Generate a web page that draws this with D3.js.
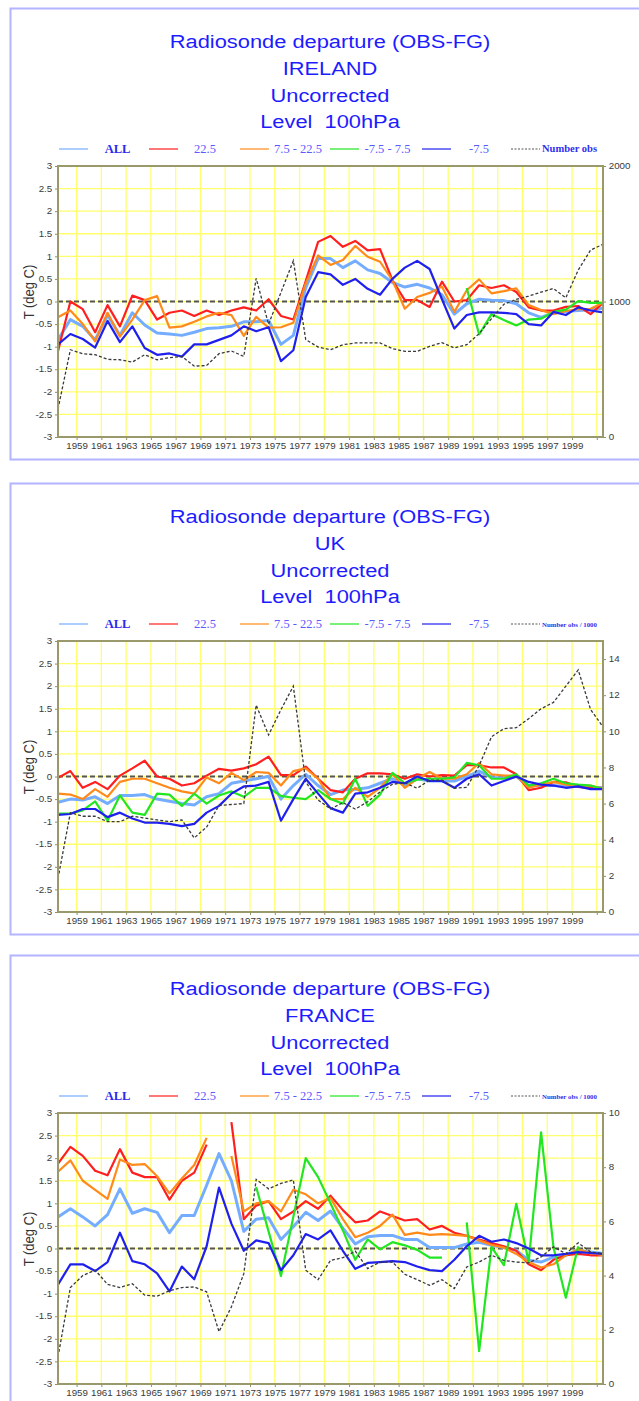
<!DOCTYPE html>
<html>
<head>
<meta charset="utf-8">
<script src="https://cdn.jsdelivr.net/npm/d3@7"></script>
<style>
  body { margin: 0; background: #fff; }
  svg { display: block; }
</style>
</head>
<body>
<svg id="chart" width="639" height="1401"></svg>
<script>
// ---- data ----
var years = d3.range(1957, 2002);            // one annual mean per year, 1957..2001
var yearLabels = d3.range(1959, 2002, 2);
var tempTicks = d3.range(-3, 3.01, 0.5);
var bandNames = ['ALL', '22.5', '7.5 - 22.5', '-7.5 - 7.5', '-7.5'];
var countries = ['IRELAND', 'UK', 'FRANCE'];
var countLabels = ['Number obs', 'Number obs / 1000', 'Number obs / 1000'];

var irelandCountMax = 2000, irelandCountTicks = [0, 1000, 2000];
var ukCountMax = 15, ukCountTicks = [0, 2, 4, 6, 8, 10, 12, 14];
var franceCountMax = 10, franceCountTicks = [0, 2, 4, 6, 8, 10];

var n = null;

var irelandAll = [-0.85,-0.4,-0.55,-0.85,-0.3,-0.75,-0.25,-0.52,-0.7,-0.72,-0.75,-0.68,-0.6,-0.58,-0.55,-0.45,-0.45,-0.42,-0.95,-0.75,0.3,0.95,0.95,0.75,0.9,0.7,0.62,0.42,0.32,0.38,0.3,0.15,-0.28,-0.05,0.05,0.03,0.02,-0.05,-0.25,-0.35,-0.25,-0.22,-0.2,-0.18,-0.15];
var irelandN22 = [-1.1,0.0,-0.17,-0.68,-0.08,-0.55,0.13,0.03,-0.4,-0.25,-0.2,-0.32,-0.2,-0.3,-0.2,-0.13,-0.2,0.05,-0.32,-0.4,0.45,1.32,1.45,1.21,1.34,1.13,1.16,0.47,0.03,0.03,-0.12,0.44,0.0,0.03,0.36,0.3,0.36,0.21,-0.13,-0.2,-0.2,-0.12,-0.1,-0.28,-0.03];
var irelandN7 = [-0.35,-0.2,-0.5,-0.88,-0.25,-0.78,-0.4,0.03,0.12,-0.58,-0.55,-0.45,-0.33,-0.25,-0.3,-0.76,-0.34,-0.58,-0.57,-0.47,0.4,1.02,0.81,0.92,1.23,0.99,0.88,0.47,-0.16,0.1,0.19,0.33,-0.23,0.25,0.49,0.18,0.23,0.29,-0.08,-0.19,-0.28,-0.21,-0.17,-0.16,-0.03];
var irelandTrop = [n,n,n,n,n,n,n,n,n,n,n,n,n,n,n,n,n,n,n,n,n,n,n,n,n,n,n,n,n,n,n,n,n,0.3,-0.73,-0.28,-0.41,-0.53,-0.4,-0.38,-0.23,-0.18,0.01,-0.03,-0.03];
var irelandS7 = [-0.95,-0.72,-0.83,-1.02,-0.43,-0.9,-0.55,-1.03,-1.18,-1.15,-1.22,-0.95,-0.95,-0.85,-0.75,-0.55,-0.66,-0.57,-1.32,-1.08,0.1,0.65,0.6,0.37,0.5,0.28,0.15,0.5,0.75,0.9,0.72,0.05,-0.6,-0.3,-0.24,-0.24,-0.25,-0.28,-0.5,-0.53,-0.23,-0.3,-0.13,-0.2,-0.24];
var irelandCount = [207,644,615,607,573,570,553,607,570,585,595,523,528,615,635,595,1170,832,1067,1301,719,664,644,681,694,694,694,652,632,632,669,696,657,681,763,874,980,1015,1040,1069,1096,1027,1232,1380,1422];

var ukAll = [-0.57,-0.5,-0.52,-0.45,-0.6,-0.42,-0.42,-0.4,-0.5,-0.55,-0.6,-0.63,-0.45,-0.38,-0.15,-0.1,-0.05,0.0,-0.5,-0.2,0.05,-0.2,-0.4,-0.3,-0.28,-0.25,-0.15,-0.05,-0.2,-0.05,-0.1,-0.1,-0.1,0.0,0.12,-0.02,-0.03,0.0,-0.2,-0.2,-0.2,-0.22,-0.22,-0.25,-0.25];
var ukN22 = [-0.03,0.12,-0.25,-0.12,-0.28,0.02,0.18,0.35,0.0,-0.05,-0.2,-0.15,0.02,0.17,0.13,0.18,0.27,0.44,0.03,0.03,0.22,-0.05,-0.3,-0.35,-0.05,0.07,0.07,0.05,-0.05,0.05,0.0,0.03,0.02,0.25,0.25,0.2,0.2,0.05,-0.3,-0.25,-0.12,-0.13,-0.23,-0.25,-0.25];
var ukN7 = [-0.38,-0.4,-0.5,-0.28,-0.45,-0.12,-0.05,-0.05,-0.15,-0.25,-0.33,-0.38,-0.02,-0.15,0.08,-0.08,0.1,0.08,-0.2,0.12,0.18,-0.05,-0.5,-0.5,-0.25,-0.45,-0.25,0.05,-0.25,-0.05,0.1,-0.05,-0.05,0.05,0.3,0.05,0.02,0.02,-0.25,-0.18,-0.12,-0.18,-0.2,-0.2,-0.28];
var ukTrop = [-0.82,-0.82,-0.75,-0.55,-0.98,-0.42,-0.8,-0.85,-0.38,-0.4,-0.65,-0.38,-0.6,-0.42,-0.33,-0.45,-0.25,-0.25,-0.43,-0.47,-0.5,-0.3,-0.5,-0.6,-0.05,-0.65,-0.4,0.08,-0.15,-0.07,-0.05,-0.05,-0.02,0.3,0.25,-0.05,-0.05,0.05,-0.2,-0.15,-0.05,-0.15,-0.18,-0.2,-0.28];
var ukS7 = [-0.85,-0.83,-0.72,-0.72,-0.9,-0.8,-0.93,-1.02,-1.02,-1.05,-1.1,-1.05,-0.8,-0.65,-0.38,-0.22,-0.2,-0.12,-0.98,-0.5,-0.05,-0.38,-0.7,-0.8,-0.38,-0.35,-0.25,-0.12,-0.15,0.0,-0.1,-0.1,-0.25,-0.05,0.05,-0.2,-0.1,0.0,-0.12,-0.18,-0.2,-0.25,-0.22,-0.28,-0.28];
var ukCount = [1.85,5.5,5.3,5.3,5.0,5.0,5.3,5.2,5.1,5.0,5.1,4.1,4.7,5.9,5.95,6.0,11.45,9.8,11.2,12.5,7.2,6.2,5.7,6.05,5.7,6.1,6.65,7.07,7.15,6.85,7.3,7.3,6.85,6.9,8.1,9.7,10.15,10.2,10.7,11.25,11.6,12.5,13.4,11.2,10.25];

var franceAll = [0.7,0.88,0.7,0.5,0.75,1.32,0.78,0.88,0.8,0.35,0.73,0.73,1.4,2.1,1.5,0.38,0.65,0.68,0.2,0.48,0.8,0.62,0.83,0.45,0.1,0.26,0.29,0.29,0.2,0.2,0.02,0.02,0.02,0.1,0.14,0.07,0.02,-0.04,-0.26,-0.3,-0.19,-0.15,-0.03,-0.08,-0.11];
var franceN22 = [1.88,2.25,2.05,1.72,1.62,2.2,1.68,1.58,1.58,1.08,1.5,1.68,2.3,n,2.8,0.65,0.95,1.05,0.65,0.82,1.05,0.88,1.17,0.85,0.58,0.62,0.82,0.72,0.62,0.65,0.42,0.5,0.35,0.28,0.2,0.12,0.05,-0.05,-0.35,-0.48,-0.25,-0.15,-0.12,-0.15,-0.15];
var franceN7 = [1.7,1.95,1.5,1.3,1.1,1.97,1.85,1.87,1.6,1.22,1.55,1.85,2.45,n,2.05,0.82,1.0,1.05,0.82,1.3,1.2,1.0,1.12,0.65,0.25,0.35,0.5,0.75,0.3,0.35,0.3,0.32,0.3,0.28,0.18,0.08,0.02,-0.12,-0.3,-0.42,-0.35,-0.15,-0.02,-0.1,-0.15];
var franceTrop = [n,n,n,n,n,n,n,n,n,n,n,n,n,n,n,n,1.36,0.38,-0.61,0.7,2.0,1.58,1.0,0.4,-0.25,0.2,-0.02,0.14,0.07,-0.03,-0.2,-0.2,n,0.58,-2.27,0.03,-0.37,0.99,-0.3,2.57,0.03,-1.09,0.05,n,n];
var franceS7 = [-0.8,-0.35,-0.35,-0.5,-0.3,0.35,-0.28,-0.35,-0.55,-0.95,-0.4,-0.68,0.05,1.35,0.55,-0.05,0.18,0.12,-0.48,-0.15,0.32,0.2,0.4,-0.05,-0.45,-0.32,-0.3,-0.28,-0.3,-0.4,-0.48,-0.5,-0.25,0.05,0.28,0.15,0.2,0.12,0.0,-0.15,-0.15,-0.12,-0.08,-0.1,-0.12];
var franceCount = [1.0,3.56,4.0,4.2,3.68,3.56,3.7,3.28,3.24,3.44,3.56,3.58,3.4,1.93,2.85,4.07,7.55,7.2,7.4,7.53,4.2,3.85,4.56,4.66,4.9,4.26,4.5,4.5,4.05,3.85,3.64,3.85,3.52,4.32,4.5,4.75,4.56,4.5,4.47,4.69,5.06,4.81,5.21,4.87,4.81];

// ---- drawing ----
var bandColors = ['#74adff', '#ff1f1f', '#ff8a1a', '#22e622', '#2020ee'],
    bandWidths = [3, 2.2, 2.2, 2.2, 2.2];

var plotLeft = 58, plotRight = 603, plotTop = 158, plotBottom = 429;
var stretch = 'scale(1.15,1)';   // the scan is a little wider than tall

var svg = d3.select('#chart');

var drawPanel = function(top, country, bands, counts, countMax, countTicks, countLabel) {
	var g = svg.append('g').attr('transform', 'translate(0,' + top + ')');

	// panel frame
	g.append('rect')
		.attr('x', 10.5).attr('y', 0.5)
		.attr('width', 700).attr('height', 451)
		.attr('fill', 'none')
		.attr('stroke', '#b4b4ff')
		.attr('stroke-width', 2);

	// title block
	var titleLines = ['Radiosonde departure (OBS-FG)', country, 'Uncorrected', 'Level  100hPa'];
	var baselines = [40, 67, 93.5, 120];
	titleLines.forEach(function(t, i) {
		g.append('text')
			.attr('transform', 'translate(330,' + baselines[i] + ') ' + stretch)
			.attr('text-anchor', 'middle')
			.style('white-space', 'pre')
			.attr('font-family', 'Liberation Sans, Arial, sans-serif')
			.attr('font-size', 19)
			.attr('fill', '#1c1cff')
			.text(t);
	});

	// legend
	var legendY = 141;
	var lineX = [59, 149, 240, 330, 422, 511],
	    textX = [117.5, 205, 298, 387.5, 479];
	bandNames.forEach(function(name, i) {
		g.append('line')
			.attr('x1', lineX[i]).attr('x2', lineX[i] + 29)
			.attr('y1', legendY).attr('y2', legendY)
			.attr('stroke', bandColors[i]).attr('stroke-width', 1.2);
		g.append('text')
			.attr('x', textX[i]).attr('y', legendY + 4)
			.attr('text-anchor', 'middle')
			.attr('font-family', 'Liberation Serif, Times New Roman, serif')
			.attr('font-size', 12.5)
			.attr('font-weight', i === 0 ? 'bold' : 'normal')
			.attr('fill', i === 0 ? '#2a2aee' : '#5a5aff')
			.text(name);
	});
	g.append('line')
		.attr('x1', lineX[5]).attr('x2', lineX[5] + 29)
		.attr('y1', legendY).attr('y2', legendY)
		.attr('stroke', '#555').attr('stroke-width', 1)
		.attr('stroke-dasharray', '2,1.5');
	g.append('text')
		.attr('x', 542).attr('y', legendY + 3)
		.attr('textLength', 55)
		.attr('lengthAdjust', 'spacingAndGlyphs')
		.attr('font-family', 'Liberation Serif, Times New Roman, serif')
		.attr('font-size', countLabel.length > 10 ? 6.5 : 10.5)
		.attr('font-weight', 'bold')
		.attr('fill', '#3030ee')
		.text(countLabel);

	// scales
	var x = d3.scaleLinear().domain([1957.5, 2001.5]).range([plotLeft, plotRight]);
	var y = d3.scaleLinear().domain([-3, 3]).range([plotBottom, plotTop]);
	var y2 = d3.scaleLinear().domain([0, countMax]).range([plotBottom, plotTop]);

	// grid
	g.append('rect')
		.attr('x', plotLeft).attr('y', plotTop)
		.attr('width', plotRight - plotLeft).attr('height', plotBottom - plotTop)
		.attr('fill', '#fff');
	g.append('g').selectAll('line').data(yearLabels).enter().append('line')
		.attr('x1', function(d) { return x(d); }).attr('x2', function(d) { return x(d); })
		.attr('y1', plotTop).attr('y2', plotBottom)
		.attr('stroke', '#ffff6e').attr('stroke-width', 1.3);
	g.append('g').selectAll('line').data(tempTicks).enter().append('line')
		.attr('x1', plotLeft).attr('x2', plotRight)
		.attr('y1', function(d) { return y(d); }).attr('y2', function(d) { return y(d); })
		.attr('stroke', '#ffff6e').attr('stroke-width', 1.3);

	// zero line
	g.append('line')
		.attr('x1', plotLeft).attr('x2', plotRight)
		.attr('y1', y(0)).attr('y2', y(0))
		.attr('stroke', '#555').attr('stroke-width', 2.2)
		.attr('stroke-dasharray', '5,3');

	// series
	var line = d3.line()
		.defined(function(d) { return d.v !== null; })
		.x(function(d) { return x(d.year + 0.5); })
		.y(function(d) { return y(d.v); });
	bands.forEach(function(vals, i) {
		g.append('path')
			.datum(years.map(function(yr, k) { return { year: yr, v: vals[k] }; }))
			.attr('d', line)
			.attr('fill', 'none')
			.attr('stroke', bandColors[i])
			.attr('stroke-width', bandWidths[i])
			.attr('stroke-linejoin', 'round');
	});
	var countLine = d3.line()
		.x(function(d) { return x(d.year + 0.5); })
		.y(function(d) { return y2(d.v); });
	g.append('path')
		.datum(years.map(function(yr, k) { return { year: yr, v: counts[k] }; }))
		.attr('d', countLine)
		.attr('fill', 'none')
		.attr('stroke', '#3a3a3a')
		.attr('stroke-width', 1.3)
		.attr('stroke-dasharray', '3,2');

	// axes
	var styleAxis = function(a) {
		a.select('.domain').attr('stroke', 'none');
		a.selectAll('.tick line').attr('stroke', '#8f8f66');
		a.selectAll('.tick text')
			.attr('font-family', 'Liberation Sans, Arial, sans-serif')
			.attr('font-size', 8.5)
			.attr('fill', '#3a3a3a')
			.attr('transform', stretch);
	};
	g.append('g').attr('transform', 'translate(' + plotLeft + ',0)')
		.call(d3.axisLeft(y).tickValues(tempTicks).tickSize(3).tickPadding(2)
			.tickFormat(function(d) { return String(d); }))
		.call(styleAxis);
	g.append('g').attr('transform', 'translate(0,' + plotBottom + ')')
		.call(d3.axisBottom(x).tickValues(yearLabels).tickSize(3).tickPadding(3)
			.tickFormat(function(d) { return d < 2001 ? d : ''; }))
		.call(styleAxis);
	g.append('g').attr('transform', 'translate(' + plotRight + ',0)')
		.call(d3.axisRight(y2).tickValues(countTicks).tickSize(3).tickPadding(2)
			.tickFormat(function(d) { return String(d); }))
		.call(styleAxis);

	// plot frame
	g.append('rect')
		.attr('x', plotLeft).attr('y', plotTop)
		.attr('width', plotRight - plotLeft).attr('height', plotBottom - plotTop)
		.attr('fill', 'none')
		.attr('stroke', '#99996b').attr('stroke-width', 2);

	// y title
	g.append('text')
		.attr('transform', 'translate(34,284) ' + stretch + ' rotate(-90)')
		.attr('text-anchor', 'middle')
		.attr('font-family', 'Liberation Sans, Arial, sans-serif')
		.attr('font-size', 13)
		.attr('fill', '#333')
		.text('T (deg C)');
};

drawPanel(8, countries[0], [irelandAll, irelandN22, irelandN7, irelandTrop, irelandS7],
	irelandCount, irelandCountMax, irelandCountTicks, countLabels[0]);
drawPanel(483, countries[1], [ukAll, ukN22, ukN7, ukTrop, ukS7],
	ukCount, ukCountMax, ukCountTicks, countLabels[1]);
drawPanel(955, countries[2], [franceAll, franceN22, franceN7, franceTrop, franceS7],
	franceCount, franceCountMax, franceCountTicks, countLabels[2]);
</script>
</body>
</html>
